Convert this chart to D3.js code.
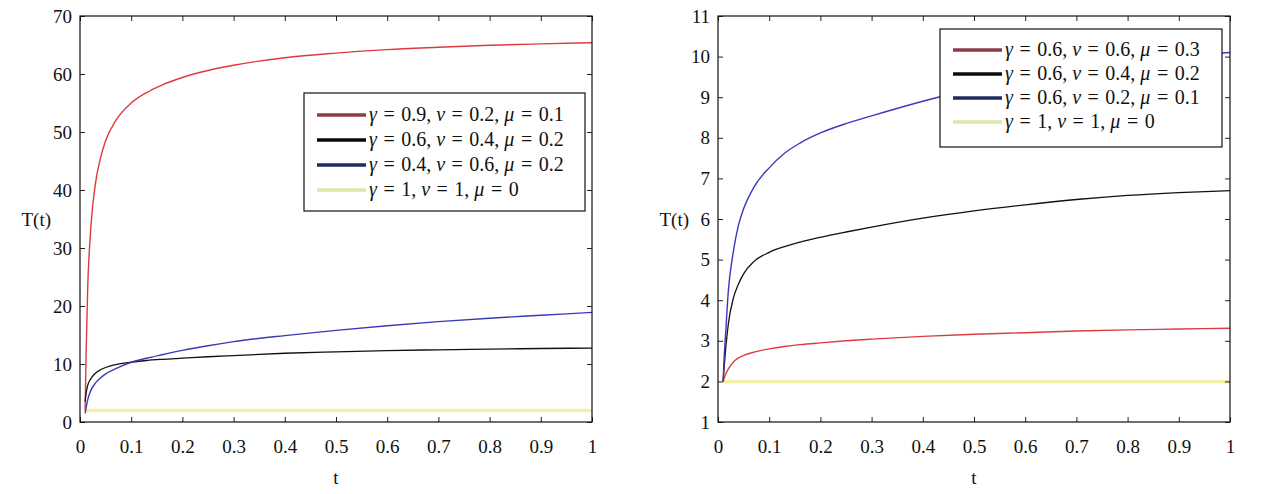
<!DOCTYPE html>
<html>
<head>
<meta charset="utf-8">
<script src="https://cdn.jsdelivr.net/npm/d3@7"></script>
<style>
  body { margin: 0; background: #fff; }
  svg text { font-family: "Liberation Serif", "Times New Roman", Times, "DejaVu Serif", serif; }
  .tick text { font-size: 19px; fill: #111; }
  .tick line { stroke: #222; }
</style>
</head>
<body>
<svg id="chart" width="1281" height="494"></svg>
<script>
const serif = '"Liberation Serif", "Times New Roman", Times, "DejaVu Serif", serif';

// sample times shared by every curve
const tValues = [0.01, 0.012, 0.015, 0.02, 0.03, 0.04, 0.05, 0.07, 0.1, 0.13, 0.16, 0.2, 0.25, 0.3, 0.4, 0.5, 0.6, 0.7, 0.8, 0.9, 1.0];

// left panel
const leftRed    = [2, 12, 23, 32, 41, 45.5, 48.5, 52, 55, 56.8, 58.1, 59.4, 60.6, 61.5, 62.8, 63.6, 64.2, 64.6, 64.95, 65.2, 65.4];
const leftBlack  = [3.5, 5, 6.3, 7.3, 8.4, 9, 9.4, 9.9, 10.3, 10.6, 10.8, 11.0, 11.25, 11.45, 11.85, 12.1, 12.3, 12.45, 12.57, 12.67, 12.75];
const leftBlue   = [1.5, 2.5, 3.8, 5.2, 6.7, 7.6, 8.3, 9.2, 10.3, 11.0, 11.6, 12.35, 13.15, 13.85, 14.9, 15.8, 16.6, 17.3, 17.9, 18.4, 18.9];
const leftYellow = [2, 2, 2, 2, 2, 2, 2, 2, 2, 2, 2, 2, 2, 2, 2, 2, 2, 2, 2, 2, 2];
const leftLabels = [
  ["0.9", "0.2", "0.1"],
  ["0.6", "0.4", "0.2"],
  ["0.4", "0.6", "0.2"],
  ["1", "1", "0"]
];
const leftYTicks = [0, 10, 20, 30, 40, 50, 60, 70];

// right panel
const rightRed    = [2, 2.08, 2.18, 2.3, 2.48, 2.58, 2.64, 2.72, 2.8, 2.86, 2.905, 2.95, 3.0, 3.04, 3.11, 3.16, 3.2, 3.24, 3.27, 3.29, 3.31];
const rightBlack  = [2, 2.35, 2.8, 3.4, 4.05, 4.4, 4.65, 4.95, 5.18, 5.32, 5.43, 5.55, 5.68, 5.8, 6.02, 6.2, 6.35, 6.48, 6.58, 6.65, 6.7];
const rightBlue   = [2, 2.6, 3.2, 4.2, 5.2, 5.85, 6.25, 6.78, 7.26, 7.62, 7.87, 8.12, 8.35, 8.54, 8.9, 9.22, 9.5, 9.72, 9.9, 10.02, 10.1];
const rightYellow = [2, 2, 2, 2, 2, 2, 2, 2, 2, 2, 2, 2, 2, 2, 2, 2, 2, 2, 2, 2, 2];
const rightLabels = [
  ["0.6", "0.6", "0.3"],
  ["0.6", "0.4", "0.2"],
  ["0.6", "0.2", "0.1"],
  ["1", "1", "0"]
];
const rightYTicks = [1, 2, 3, 4, 5, 6, 7, 8, 9, 10, 11];

const xTicks = [0, 0.1, 0.2, 0.3, 0.4, 0.5, 0.6, 0.7, 0.8, 0.9, 1];

const lineColors   = ["#de3a3e", "#111111", "#3a3ab8", "#f1f1a6"];
const lineWidths   = [1.4, 1.3, 1.4, 3.5];
const legendColors = ["#8c3c48", "#0a0a0a", "#1e2b5e", "#dde6ab"];

const svg = d3.select("#chart");

function drawPanel(opts) {
  const { x0, x1, y0, y1, yDomain, yTicks, series, labels, legend } = opts;
  const x = d3.scaleLinear().domain([0, 1]).range([x0, x1]);
  const y = d3.scaleLinear().domain(yDomain).range([y0, y1]);
  const g = svg.append("g");

  // curves, yellow first so it sits underneath
  const order = [3, 0, 1, 2];
  const line = d3.line()
    .x((d, i) => x(tValues[i]))
    .y(d => y(d))
    .curve(d3.curveMonotoneX);
  order.forEach(k => {
    g.append("path")
      .datum(series[k])
      .attr("fill", "none")
      .attr("stroke", lineColors[k])
      .attr("stroke-width", lineWidths[k])
      .attr("d", line);
  });

  // axes with inward ticks on all four sides
  const fmt = d => d3.format("")(d);
  g.append("g").attr("transform", "translate(0," + y0 + ")")
    .call(d3.axisBottom(x).tickValues(xTicks).tickFormat(fmt).tickSizeInner(-5).tickSizeOuter(0).tickPadding(18))
    .attr("font-family", serif)
    .call(a => a.select(".domain").remove());
  g.append("g").attr("transform", "translate(0," + y1 + ")")
    .call(d3.axisTop(x).tickValues(xTicks).tickFormat("").tickSizeInner(-5).tickSizeOuter(0))
    .call(a => a.select(".domain").remove());
  g.append("g").attr("transform", "translate(" + x0 + ",0)")
    .call(d3.axisLeft(y).tickValues(yTicks).tickFormat(fmt).tickSizeInner(-5).tickSizeOuter(0).tickPadding(8))
    .attr("font-family", serif)
    .call(a => a.select(".domain").remove());
  g.append("g").attr("transform", "translate(" + x1 + ",0)")
    .call(d3.axisRight(y).tickValues(yTicks).tickFormat("").tickSizeInner(-5).tickSizeOuter(0))
    .call(a => a.select(".domain").remove());

  g.append("rect")
    .attr("x", x0).attr("y", y1)
    .attr("width", x1 - x0).attr("height", y0 - y1)
    .attr("fill", "none").attr("stroke", "#111").attr("stroke-width", 1.2);

  // axis titles
  g.append("text")
    .attr("x", x0 - 29).attr("y", 226)
    .attr("text-anchor", "end")
    .attr("font-size", 19).attr("fill", "#111")
    .text("T(t)");
  g.append("text")
    .attr("x", (x0 + x1) / 2).attr("y", 484)
    .attr("text-anchor", "middle")
    .attr("font-size", 19).attr("fill", "#111")
    .text("t");

  // legend
  const lg = g.append("g");
  lg.append("rect")
    .attr("x", legend.x).attr("y", legend.y)
    .attr("width", legend.w).attr("height", legend.h)
    .attr("fill", "#fff").attr("stroke", "#111").attr("stroke-width", 1.2);
  const names = ["\u03b3", "\u03bd", "\u03bc"];
  labels.forEach((lab, i) => {
    const cy = legend.y + legend.first + i * legend.step;
    lg.append("line")
      .attr("x1", legend.x + 13).attr("x2", legend.x + 62)
      .attr("y1", cy).attr("y2", cy)
      .attr("stroke", legendColors[i]).attr("stroke-width", 3.5);
    const txt = lg.append("text")
      .attr("x", legend.x + 65).attr("y", cy + 6)
      .attr("font-size", 20).attr("fill", "#111");
    names.forEach((n, j) => {
      txt.append("tspan").attr("font-style", "italic").text(n);
      txt.append("tspan").attr("dx", 1.5).text(" = ");
      txt.append("tspan").attr("dx", 1.5).text(lab[j] + (j < 2 ? ", " : ""));
    });
  });
}

drawPanel({
  x0: 80, x1: 592, y0: 422, y1: 16,
  yDomain: [0, 70], yTicks: leftYTicks,
  series: [leftRed, leftBlack, leftBlue, leftYellow],
  labels: leftLabels,
  legend: { x: 304, y: 93, w: 281, h: 118, first: 22, step: 25 }
});

drawPanel({
  x0: 718, x1: 1230, y0: 422, y1: 16,
  yDomain: [1, 11], yTicks: rightYTicks,
  series: [rightRed, rightBlack, rightBlue, rightYellow],
  labels: rightLabels,
  legend: { x: 940, y: 29, w: 282, h: 118, first: 21, step: 24 }
});
</script>
</body>
</html>
